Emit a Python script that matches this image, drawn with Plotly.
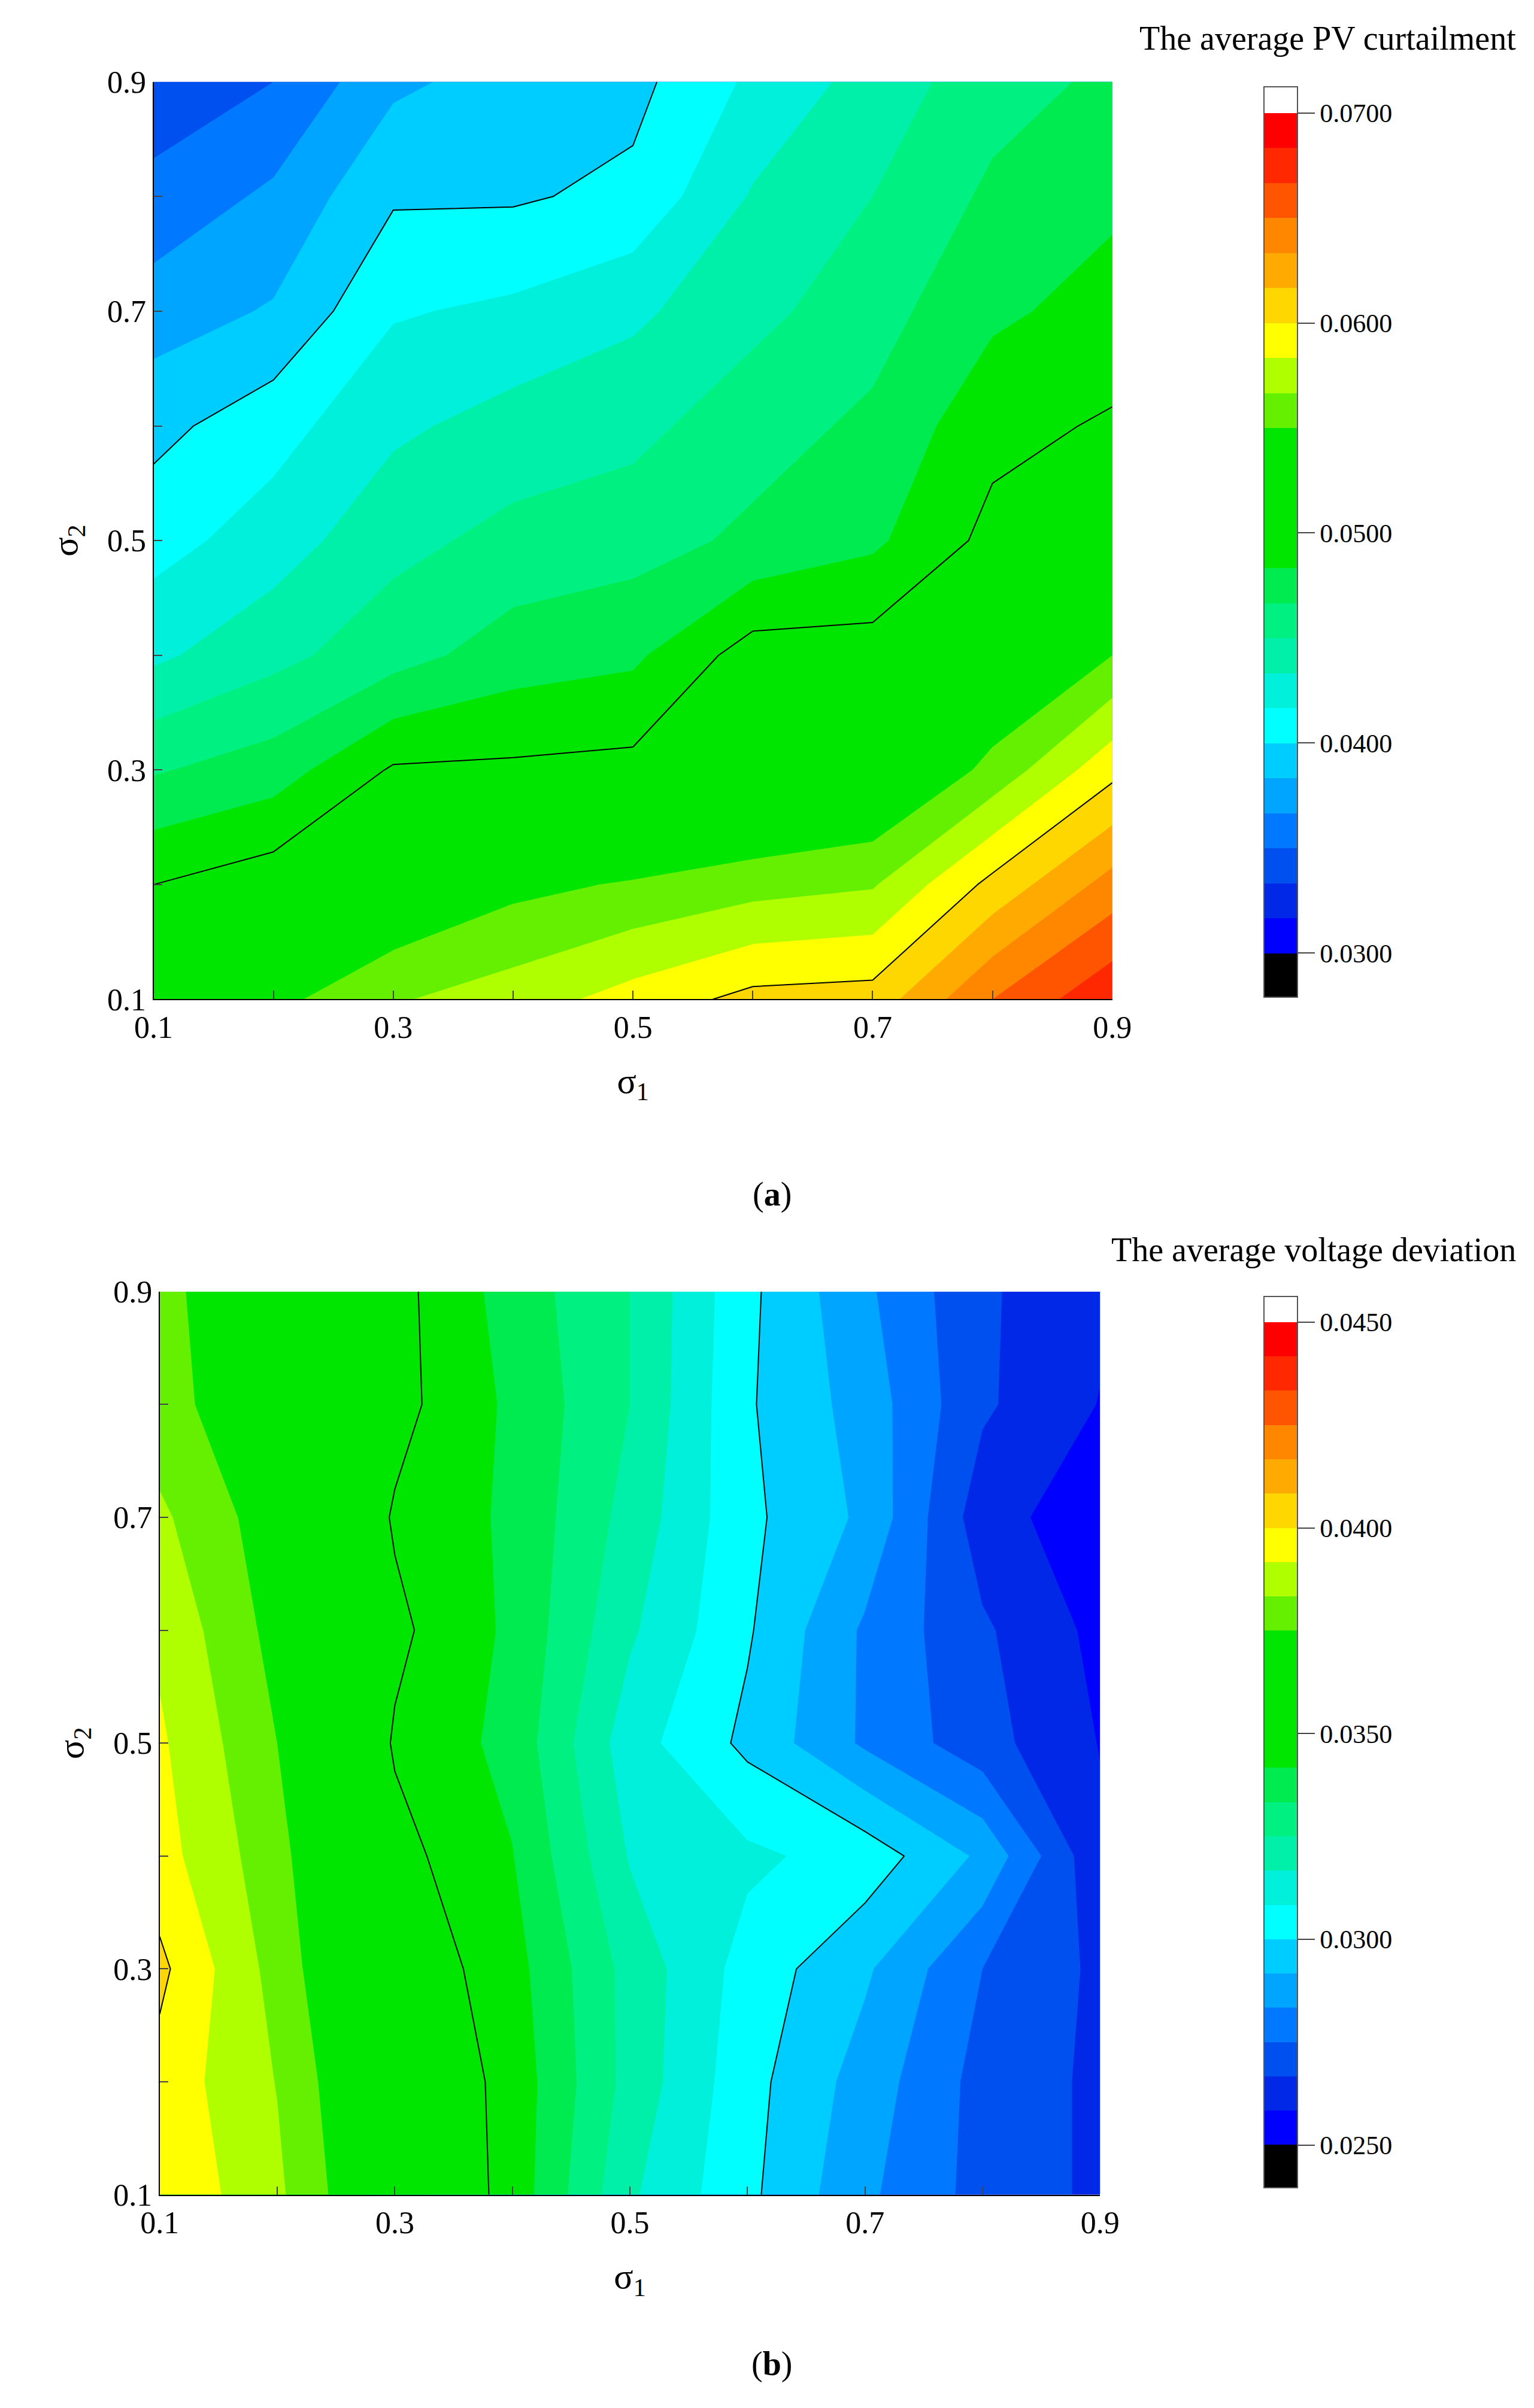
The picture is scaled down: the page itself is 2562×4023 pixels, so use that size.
import numpy as np
import plotly.graph_objects as go

sigma1 = [0.1, 0.2, 0.3, 0.4, 0.5, 0.6, 0.7, 0.8, 0.9]
sigma2 = [0.1, 0.2, 0.3, 0.4, 0.5, 0.6, 0.7, 0.8, 0.9]

# (a) average PV curtailment, rows = sigma2, cols = sigma1
pv_curtail = [
    [0.0530, 0.0545, 0.0565, 0.0575, 0.0590, 0.0605, 0.0607, 0.0650, 0.0680],
    [0.0500, 0.0510, 0.0530, 0.0545, 0.0552, 0.0560, 0.0565, 0.0605, 0.0640],
    [0.0465, 0.0475, 0.0502, 0.0503, 0.0505, 0.0515, 0.0525, 0.0555, 0.0595],
    [0.0430, 0.0445, 0.0460, 0.0475, 0.0480, 0.0508, 0.0508, 0.0530, 0.0550],
    [0.0410, 0.0425, 0.0445, 0.0455, 0.0460, 0.0470, 0.0480, 0.0505, 0.0520],
    [0.0395, 0.0410, 0.0430, 0.0440, 0.0445, 0.0460, 0.0470, 0.0495, 0.0502],
    [0.0375, 0.0385, 0.0415, 0.0420, 0.0430, 0.0445, 0.0460, 0.0480, 0.0490],
    [0.0355, 0.0370, 0.0398, 0.0398, 0.0404, 0.0435, 0.0450, 0.0470, 0.0480],
    [0.0340, 0.0350, 0.0380, 0.0390, 0.0395, 0.0420, 0.0440, 0.0460, 0.0470],
]

# (b) average voltage deviation, rows = sigma2, cols = sigma1
volt_dev = [
    [0.0399, 0.0385, 0.0362, 0.0347, 0.0318, 0.0302, 0.0285, 0.0272, 0.0265],
    [0.0397, 0.0383, 0.0360, 0.0347, 0.0322, 0.0303, 0.0288, 0.0272, 0.0265],
    [0.0402, 0.0380, 0.0357, 0.0345, 0.0322, 0.0305, 0.0293, 0.0275, 0.0265],
    [0.0395, 0.0378, 0.0353, 0.0342, 0.0316, 0.0310, 0.0305, 0.0290, 0.0260],
    [0.0393, 0.0375, 0.0349, 0.0339, 0.0312, 0.0298, 0.0282, 0.0270, 0.0258],
    [0.0390, 0.0372, 0.0352, 0.0340, 0.0318, 0.0301, 0.0282, 0.0268, 0.0256],
    [0.0385, 0.0370, 0.0349, 0.0340, 0.0322, 0.0302, 0.0290, 0.0262, 0.0253],
    [0.0378, 0.0368, 0.0353, 0.0340, 0.0325, 0.0301, 0.0288, 0.0268, 0.0258],
    [0.0377, 0.0368, 0.0353, 0.0338, 0.0325, 0.0302, 0.0285, 0.0268, 0.0260],
]

band_colors = [
    "rgb(0,0,255)", "rgb(0,40,230)", "rgb(0,80,240)", "rgb(0,120,255)",
    "rgb(0,165,255)", "rgb(0,205,255)", "rgb(0,255,255)", "rgb(0,240,220)",
    "rgb(0,240,170)", "rgb(0,240,130)", "rgb(0,235,80)", "rgb(0,230,0)",
    "rgb(0,230,0)", "rgb(0,230,0)", "rgb(0,230,0)", "rgb(100,240,0)",
    "rgb(175,255,0)", "rgb(255,255,0)", "rgb(255,215,0)", "rgb(255,170,0)",
    "rgb(255,135,0)", "rgb(255,85,0)", "rgb(255,40,0)", "rgb(255,0,0)",
]
all_colors = ["black"] + band_colors + ["white"]
n = len(all_colors)
cscale = []
for i, c in enumerate(all_colors):
    cscale.append([i / n, c])
    cscale.append([(i + 1) / n, c])

FONT = "Liberation Serif"


def panel(fig, z, lo, hi, xa, ya, cb_y, cb_len):
    s = (hi - lo) / 24
    zmin = lo - s - s / 4
    fig.add_trace(go.Contour(
        x=sigma1, y=sigma2, z=z, xaxis=xa, yaxis=ya, showlegend=False,
        colorscale=cscale, zmin=zmin, zmax=zmin + n * s, zauto=False,
        contours=dict(start=lo, end=hi, size=s, coloring="fill", showlines=False),
        line=dict(width=0, smoothing=0),
        colorbar=dict(x=0.817, xanchor="left", y=cb_y, yanchor="middle", len=cb_len,
                      lenmode="fraction", thickness=56, outlinewidth=2, outlinecolor="#555",
                      tickvals=[lo + k * (hi - lo) / 4 for k in range(5)],
                      tickformat=".4f", ticks="outside", ticklen=28, tickwidth=2,
                      tickfont=dict(family=FONT, size=44, color="black")),
    ))
    fig.add_trace(go.Contour(
        x=sigma1, y=sigma2, z=z, xaxis=xa, yaxis=ya, showscale=False, showlegend=False,
        contours=dict(start=lo + (hi - lo) / 4, end=hi - (hi - lo) / 4, size=(hi - lo) / 4,
                      coloring="none"),
        line=dict(color="black", width=2, smoothing=0), hoverinfo="skip",
    ))


fig = go.Figure()
panel(fig, pv_curtail, 0.03, 0.07, "x", "y", 0.777, 0.383)
panel(fig, volt_dev, 0.025, 0.045, "x2", "y2", 0.2785, 0.375)

ax = dict(range=[0.1, 0.9], tickvals=[0.1, 0.3, 0.5, 0.7, 0.9], ticks="inside",
          ticklen=14, tickwidth=2, showline=True, linecolor="black", linewidth=2,
          showgrid=False, zeroline=False, tickformat=".1f", automargin=False,
          minor=dict(tickvals=[0.2, 0.4, 0.6, 0.8], ticks="inside", ticklen=14, tickwidth=2),
          tickfont=dict(family=FONT, size=52, color="black"))
xt = dict(text="σ<sub>1</sub>", font=dict(family=FONT, size=60, color="black"), standoff=40)
yt = dict(text="σ<sub>2</sub>", font=dict(family=FONT, size=60, color="black"), standoff=30)

fig.update_layout(
    width=2562, height=4023, paper_bgcolor="white", plot_bgcolor="white",
    margin=dict(l=0, r=0, t=0, b=0), showlegend=False,
    xaxis=dict(ax, domain=[0.097, 0.722], anchor="y", title=xt),
    yaxis=dict(ax, domain=[0.587, 0.968], anchor="x", title=yt),
    xaxis2=dict(ax, domain=[0.101, 0.714], anchor="y2", title=xt),
    yaxis2=dict(ax, domain=[0.0906, 0.4656], anchor="x2", title=yt),
    annotations=[
        dict(text="The average PV curtailment", x=0.986, y=0.986, xref="paper", yref="paper",
             xanchor="right", yanchor="middle", showarrow=False,
             font=dict(family=FONT, size=56, color="black")),
        dict(text="The average voltage deviation", x=0.986, y=0.483, xref="paper", yref="paper",
             xanchor="right", yanchor="middle", showarrow=False,
             font=dict(family=FONT, size=56, color="black")),
        dict(text="(<b>a</b>)", x=0.5, y=0.506, xref="paper", yref="paper",
             showarrow=False, font=dict(family=FONT, size=56, color="black")),
        dict(text="(<b>b</b>)", x=0.5, y=0.012, xref="paper", yref="paper",
             showarrow=False, font=dict(family=FONT, size=56, color="black")),
    ],
)

fig.write_html("out.html")
